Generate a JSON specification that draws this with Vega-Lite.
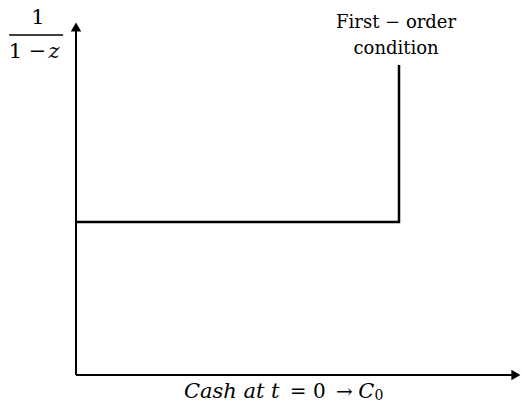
{
  "$schema": "https://vega.github.io/schema/vega-lite/v6.json",
  "width": 522,
  "height": 411,
  "padding": 0,
  "autosize": {"type": "fit", "contains": "padding"},
  "config": {"view": {"stroke": null}},
  "datasets": {
    "axes": [
      {"x": 0, "y": 0, "x2": 0, "y2": 2.29},
      {"x": 0, "y": 0, "x2": 1.355, "y2": 0}
    ],
    "step": [
      {"x": 0, "y": 1, "o": 1},
      {"x": 1, "y": 1, "o": 2},
      {"x": 1, "y": 2.026, "o": 3}
    ],
    "arrowUp": [{"x": 0, "y": 2.275}],
    "arrowRight": [{"x": 1.362, "y": 0}],
    "fracBar": [{"x": -0.207, "x2": -0.04, "y": 2.222}]
  },
  "layer": [
    {
      "data": {"name": "axes"},
      "mark": {"type": "rule", "color": "black", "strokeWidth": 2},
      "encoding": {
        "x": {"field": "x", "type": "quantitative", "scale": {"domain": [-0.2353, 1.3808], "nice": false, "zero": false}, "axis": null},
        "y": {"field": "y", "type": "quantitative", "scale": {"domain": [-0.2353, 2.451], "nice": false, "zero": false}, "axis": null},
        "x2": {"field": "x2"},
        "y2": {"field": "y2"}
      }
    },
    {
      "data": {"name": "step"},
      "mark": {"type": "line", "color": "black", "strokeWidth": 2.5, "strokeJoin": "miter"},
      "encoding": {
        "x": {"field": "x", "type": "quantitative"},
        "y": {"field": "y", "type": "quantitative"},
        "order": {"field": "o"}
      }
    },
    {
      "data": {"name": "arrowUp"},
      "mark": {"type": "point", "shape": "triangle-up", "filled": true, "color": "black", "opacity": 1, "size": 110},
      "encoding": {
        "x": {"field": "x", "type": "quantitative"},
        "y": {"field": "y", "type": "quantitative"}
      }
    },
    {
      "data": {"name": "arrowRight"},
      "mark": {"type": "point", "shape": "triangle-right", "filled": true, "color": "black", "opacity": 1, "size": 110},
      "encoding": {
        "x": {"field": "x", "type": "quantitative"},
        "y": {"field": "y", "type": "quantitative"}
      }
    },
    {
      "data": {"name": "fracBar"},
      "mark": {"type": "rule", "color": "black", "strokeWidth": 1.5},
      "encoding": {
        "x": {"field": "x", "type": "quantitative"},
        "x2": {"field": "x2"},
        "y": {"field": "y", "type": "quantitative"}
      }
    },
    {
      "data": {"values": [{"x": -0.1176, "y": 2.333, "t": "1"}, {"x": -0.15, "y": 2.111, "t": "1 −"}]},
      "mark": {"type": "text", "font": "DejaVu Serif", "fontSize": 21, "align": "center", "baseline": "middle", "color": "black"},
      "encoding": {
        "x": {"field": "x", "type": "quantitative"},
        "y": {"field": "y", "type": "quantitative"},
        "text": {"field": "t"}
      }
    },
    {
      "data": {"values": [{"x": -0.068, "y": 2.111, "t": "z"}]},
      "mark": {"type": "text", "font": "DejaVu Serif", "fontStyle": "italic", "fontSize": 21, "align": "center", "baseline": "middle", "color": "black"},
      "encoding": {
        "x": {"field": "x", "type": "quantitative"},
        "y": {"field": "y", "type": "quantitative"},
        "text": {"field": "t"}
      }
    },
    {
      "data": {"values": [{"x": 0.991, "y": 2.3, "t": "First − order"}, {"x": 0.991, "y": 2.13, "t": "condition"}]},
      "mark": {"type": "text", "font": "DejaVu Serif", "fontSize": 18, "align": "center", "baseline": "middle", "color": "black"},
      "encoding": {
        "x": {"field": "x", "type": "quantitative"},
        "y": {"field": "y", "type": "quantitative"},
        "text": {"field": "t"}
      }
    },
    {
      "data": {"values": [{"x": 0.334, "y": -0.111, "t": "Cash at t"}, {"x": 0.874, "y": -0.111, "t": "C"}]},
      "mark": {"type": "text", "font": "DejaVu Serif", "fontStyle": "italic", "fontSize": 21, "align": "left", "baseline": "middle", "color": "black"},
      "encoding": {
        "x": {"field": "x", "type": "quantitative"},
        "y": {"field": "y", "type": "quantitative"},
        "text": {"field": "t"}
      }
    },
    {
      "data": {"values": [{"x": 0.662, "y": -0.111, "t": "= 0"}, {"x": 0.805, "y": -0.111, "t": "→"}]},
      "mark": {"type": "text", "font": "DejaVu Serif", "fontSize": 20, "align": "left", "baseline": "middle", "color": "black"},
      "encoding": {
        "x": {"field": "x", "type": "quantitative"},
        "y": {"field": "y", "type": "quantitative"},
        "text": {"field": "t"}
      }
    },
    {
      "data": {"values": [{"x": 0.924, "y": -0.135, "t": "0"}]},
      "mark": {"type": "text", "font": "DejaVu Serif", "fontSize": 14, "align": "left", "baseline": "middle", "color": "black"},
      "encoding": {
        "x": {"field": "x", "type": "quantitative"},
        "y": {"field": "y", "type": "quantitative"},
        "text": {"field": "t"}
      }
    }
  ]
}
